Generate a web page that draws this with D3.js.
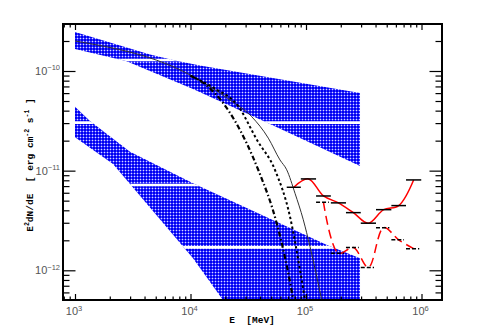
<!DOCTYPE html>
<html>
<head>
<meta charset="utf-8">
<script src="https://cdn.jsdelivr.net/npm/d3@7"></script>
<style>
  body { margin: 0; background: #fff; }
  svg { display: block; }
</style>
</head>
<body>
<script>
"use strict";

// upper bowtie (E in MeV, E^2 dN/dE in erg cm^-2 s^-1)
const upTopE = [1e3, 2455, 4460, 7350, 12080, 2.935e5];
const upTopF = [2.461e-10, 1.803e-10, 1.466e-10, 1.274e-10, 1.135e-10, 6.01e-11];
const upBotE = [1e3, 2764, 10510, 48750, 2.935e5];
const upBotF = [1.662e-10, 1.26e-10, 6.6e-11, 2.94e-11, 1.113e-11];

// lower bowtie
const loTopE = [1e3, 1349, 2994, 10510, 1.52e5, 2.935e5];
const loTopF = [4.382e-11, 3.149e-11, 1.55e-11, 7.46e-12, 1.794e-12, 1.319e-12];
const loBotE = [1e3, 2133, 10510, 19110, 2.935e5];
const loBotF = [2.162e-11, 1.166e-11, 1.319e-12, 5.03e-13, 2e-14];

// white streaks left in the hatched fill
const gapF = [1.289e-10, 3.03e-11, 7.18e-12, 1.70e-12];

// model curves
const solidE = [1e3, 10570, 21980, 33880, 47170, 59550, 68080, 80310, 94770, 108300, 136700];
const solidF = [2.0e-10, 8.77e-11, 5.12e-11, 3.48e-11, 2.12e-11, 1.28e-11, 1.02e-11, 5.93e-12, 3.21e-12, 1.73e-12, 5.05e-13];
const dotE = [1e4, 15980, 25780, 37650, 53900, 72700, 88730, 98000];
const dotF = [8.95e-11, 6.75e-11, 4.455e-11, 2.03e-11, 1.015e-11, 3.45e-12, 1.007e-12, 5.04e-13];
const dashDotE = [1e4, 13620, 19230, 30660, 38640, 55770, 70290, 77620];
const dashDotF = [8.95e-11, 7.24e-11, 4.742e-11, 1.881e-11, 1.015e-11, 2.962e-12, 9.33e-13, 5.04e-13];

// binned points
const binEdges = [68100, 90200, 122200, 164100, 221800, 297900, 403600, 548300, 734500, 995000];
const solidBins = [6.81e-12, 8.26e-12, 5.57e-12, 4.75e-12, 3.79e-12, 2.97e-12, 4.06e-12, 4.46e-12, 8.07e-12];
const dashBins = [null, null, 4.82e-12, 1.48e-12, 1.69e-12, 1.07e-12, 2.68e-12, 2.02e-12, 1.65e-12];

const xMajor = [1e3, 1e4, 1e5, 1e6];
const yMajor = [1e-12, 1e-11, 1e-10];

const W = 491, H = 334;
const m = { left: 63, right: 442, top: 24, bottom: 300 };

const x = d3.scaleLog()
  .domain([Math.pow(10, 2.8961), Math.pow(10, 6.1775)])
  .range([m.left, m.right]);
const y = d3.scaleLog()
  .domain([Math.pow(10, -12.298), Math.pow(10, -9.5284)])
  .range([m.bottom, m.top]);

function minors(lo, hi) {
  let out = [];
  for (let p = lo; p < hi; p++) {
    for (let k = 2; k <= 9; k++) out.push(k * Math.pow(10, p));
  }
  return out;
}
const xMinor = minors(2, 6).filter(v => v > x.domain()[0] && v < x.domain()[1]);
const yMinor = minors(-13, -9).filter(v => v > y.domain()[0] && v < y.domain()[1]);

const svg = d3.select("body").append("svg")
  .attr("width", W)
  .attr("height", H);

const defs = svg.append("defs");
const pat = defs.append("pattern")
  .attr("id", "hatch")
  .attr("width", 3).attr("height", 3)
  .attr("patternUnits", "userSpaceOnUse");
pat.append("rect").attr("width", 3).attr("height", 3).attr("fill", "#0000f0");
pat.append("rect").attr("x", 2).attr("width", 1).attr("height", 3).attr("fill", "#3a3aff");
pat.append("rect").attr("y", 2).attr("width", 3).attr("height", 1).attr("fill", "#3a3aff");
pat.append("rect").attr("x", 2).attr("y", 2).attr("width", 1).attr("height", 1).attr("fill", "#d8d8ff");

defs.append("clipPath").attr("id", "plotClip")
  .append("rect")
  .attr("x", m.left).attr("y", m.top)
  .attr("width", m.right - m.left).attr("height", m.bottom - m.top);

function zip(es, fs) {
  return es.map((e, i) => [e, fs[i]]);
}

const linePath = d3.line()
  .x(d => x(d[0]))
  .y(d => y(d[1]));

function bowtie(topE, topF, botE, botF) {
  let pts = zip(topE, topF).concat(zip(botE, botF).reverse());
  return linePath(pts) + "Z";
}

const bands = [
  bowtie(upTopE, upTopF, upBotE, upBotF),
  bowtie(loTopE, loTopF, loBotE, loBotF)
];

const bandClip = defs.append("clipPath").attr("id", "bandClip");
bands.forEach(b => bandClip.append("path").attr("d", b));

const plot = svg.append("g").attr("clip-path", "url(#plotClip)");

plot.selectAll(".band")
  .data(bands)
  .enter()
  .append("path")
  .attr("class", "band")
  .attr("d", d => d)
  .attr("fill", "url(#hatch)");

plot.append("g")
  .attr("clip-path", "url(#bandClip)")
  .selectAll("line")
  .data(gapF)
  .enter()
  .append("line")
  .attr("x1", m.left).attr("x2", m.right)
  .attr("y1", d => y(d)).attr("y2", d => y(d))
  .attr("stroke", "#fff")
  .attr("stroke-width", 2.6);

const curveLine = d3.line()
  .x(d => x(d[0]))
  .y(d => y(d[1]))
  .curve(d3.curveMonotoneX);

plot.append("path")
  .attr("d", curveLine(zip(solidE, solidF)))
  .attr("fill", "none")
  .attr("stroke", "#333")
  .attr("stroke-width", 1);

plot.append("path")
  .attr("d", curveLine(zip(dotE, dotF)))
  .attr("fill", "none")
  .attr("stroke", "#000")
  .attr("stroke-width", 2)
  .attr("stroke-dasharray", "2.5,2.5");

plot.append("path")
  .attr("d", curveLine(zip(dashDotE, dashDotF)))
  .attr("fill", "none")
  .attr("stroke", "#000")
  .attr("stroke-width", 2.2)
  .attr("stroke-dasharray", "5,2.5,1.5,2.5");

// bins
const bins = solidBins.map((f, i) => ({
  lo: binEdges[i],
  hi: binEdges[i + 1],
  mid: Math.sqrt(binEdges[i] * binEdges[i + 1]),
  f: f,
  g: dashBins[i]
}));

const redLine = d3.line()
  .x(d => x(d[0]))
  .y(d => y(d[1]))
  .curve(d3.curveCatmullRom.alpha(0.5));

plot.append("path")
  .attr("d", redLine(bins.map(b => [b.mid, b.f])))
  .attr("fill", "none")
  .attr("stroke", "#ff0000")
  .attr("stroke-width", 1.5);

plot.append("path")
  .attr("d", redLine(bins.filter(b => b.g != null).map(b => [b.mid, b.g])))
  .attr("fill", "none")
  .attr("stroke", "#ff0000")
  .attr("stroke-width", 1.5)
  .attr("stroke-dasharray", "9,5");

plot.selectAll(".sbar")
  .data(bins)
  .enter()
  .append("line")
  .attr("class", "sbar")
  .attr("x1", d => x(d.lo)).attr("x2", d => x(d.hi))
  .attr("y1", d => y(d.f)).attr("y2", d => y(d.f))
  .attr("stroke", "#000")
  .attr("stroke-width", 1.5);

plot.selectAll(".dbar")
  .data(bins.filter(b => b.g != null))
  .enter()
  .append("line")
  .attr("class", "dbar")
  .attr("x1", d => x(d.lo)).attr("x2", d => x(d.hi) - 2)
  .attr("y1", d => y(d.g)).attr("y2", d => y(d.g))
  .attr("stroke", "#000")
  .attr("stroke-width", 1.5)
  .attr("stroke-dasharray", "4,2");

// axes: ticks pointing inward on all four sides
function ticks(axis, tx, ty) {
  let g = svg.append("g")
    .attr("transform", "translate(" + tx + "," + ty + ")")
    .call(axis);
  g.select(".domain").remove();
  g.selectAll("line").attr("stroke", "#000").attr("stroke-width", 1.2);
  g.selectAll("text").remove();
  return g;
}

ticks(d3.axisBottom(x).tickValues(xMajor).tickSize(-6), 0, m.bottom);
ticks(d3.axisBottom(x).tickValues(xMinor).tickSize(-3.5), 0, m.bottom);
ticks(d3.axisTop(x).tickValues(xMajor).tickSize(-6), 0, m.top);
ticks(d3.axisTop(x).tickValues(xMinor).tickSize(-3.5), 0, m.top);
ticks(d3.axisLeft(y).tickValues(yMajor).tickSize(-12.5), m.left, 0);
ticks(d3.axisLeft(y).tickValues(yMinor).tickSize(-6.5), m.left, 0);
ticks(d3.axisRight(y).tickValues(yMajor).tickSize(-12.5), m.right, 0);
ticks(d3.axisRight(y).tickValues(yMinor).tickSize(-6.5), m.right, 0);

svg.append("rect")
  .attr("x", m.left).attr("y", m.top)
  .attr("width", m.right - m.left).attr("height", m.bottom - m.top)
  .attr("fill", "none")
  .attr("stroke", "#000")
  .attr("stroke-width", 2);

// tick labels
const labFont = "'Liberation Sans', Arial, sans-serif";

svg.selectAll(".xlab")
  .data(xMajor)
  .enter()
  .append("text")
  .attr("class", "xlab")
  .attr("x", d => x(d) - 1)
  .attr("y", 315)
  .attr("text-anchor", "middle")
  .attr("font-family", labFont)
  .attr("font-size", 11)
  .attr("fill", "#555")
  .each(function(d) {
    let t = d3.select(this);
    t.append("tspan").text("10");
    t.append("tspan").attr("dy", -4.5).attr("font-size", 7.5).text(Math.round(Math.log10(d)));
  });

svg.selectAll(".ylab")
  .data(yMajor)
  .enter()
  .append("text")
  .attr("class", "ylab")
  .attr("x", 60)
  .attr("y", d => y(d) + 4)
  .attr("text-anchor", "end")
  .attr("font-family", labFont)
  .attr("font-size", 11)
  .attr("fill", "#555")
  .each(function(d) {
    let t = d3.select(this);
    t.append("tspan").text("10");
    t.append("tspan").attr("dy", -4.5).attr("font-size", 7.5).text("\u2212" + Math.round(-Math.log10(d)));
  });

// axis titles
const titleFont = "'Liberation Mono', 'DejaVu Sans Mono', monospace";

svg.append("text")
  .attr("x", 252)
  .attr("y", 323)
  .attr("text-anchor", "middle")
  .attr("font-family", titleFont)
  .attr("font-weight", "bold")
  .attr("font-size", 9.5)
  .attr("fill", "#000")
  .attr("xml:space", "preserve")
  .text("E  [MeV]");

const yt = svg.append("text")
  .attr("transform", "translate(33,165) rotate(-90)")
  .attr("text-anchor", "middle")
  .attr("font-family", titleFont)
  .attr("font-weight", "bold")
  .attr("font-size", 9.5)
  .attr("fill", "#000")
  .attr("xml:space", "preserve");
yt.append("tspan").text("E");
yt.append("tspan").attr("dy", -4).attr("font-size", 6.5).text("2");
yt.append("tspan").attr("dy", 4).text("dN/dE  [ erg cm");
yt.append("tspan").attr("dy", -4).attr("font-size", 6.5).text("-2");
yt.append("tspan").attr("dy", 4).text(" s");
yt.append("tspan").attr("dy", -4).attr("font-size", 6.5).text("-1");
yt.append("tspan").attr("dy", 4).text(" ]");
</script>
</body>
</html>
